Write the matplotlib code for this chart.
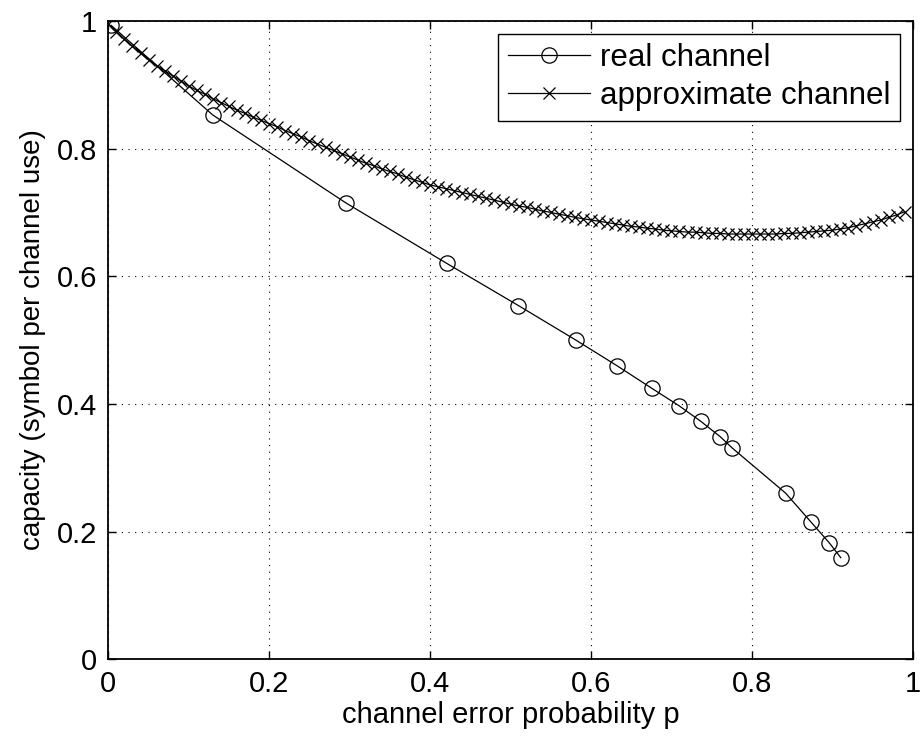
import matplotlib
matplotlib.use("Agg")
import matplotlib.pyplot as plt
import numpy as np

plt.rcParams['font.family'] = ['Liberation Sans', 'DejaVu Sans']

# real channel
real_p = [0.0034, 0.1298, 0.295, 0.4207, 0.5097, 0.581, 0.632, 0.6755, 0.7098,
          0.7364, 0.7605, 0.7754, 0.842, 0.873, 0.896, 0.9105]
real_c = [0.993, 0.8525, 0.715, 0.620, 0.554, 0.500, 0.460, 0.4244, 0.3967,
          0.3727, 0.3487, 0.331, 0.260, 0.2155, 0.1826, 0.159]

# approximate channel, p = 0.00 ... 0.99
approx_p = [i / 100 for i in range(100)]
approx_c = [
    0.995, 0.983, 0.971, 0.960, 0.949, 0.939, 0.930, 0.922, 0.914, 0.906,
    0.898, 0.891, 0.885, 0.878, 0.872, 0.866, 0.860, 0.855, 0.849, 0.844,
    0.839, 0.834, 0.828, 0.823, 0.818, 0.812, 0.807, 0.802, 0.797, 0.792,
    0.787, 0.782, 0.777, 0.773, 0.768, 0.764, 0.760, 0.755, 0.751, 0.747,
    0.743, 0.740, 0.737, 0.734, 0.731, 0.728, 0.725, 0.722, 0.719, 0.716,
    0.713, 0.710, 0.708, 0.705, 0.702, 0.700, 0.697, 0.695, 0.692, 0.690,
    0.688, 0.686, 0.684, 0.682, 0.680, 0.678, 0.677, 0.675, 0.674, 0.672,
    0.671, 0.670, 0.669, 0.669, 0.668, 0.667, 0.667, 0.666, 0.666, 0.666,
    0.666, 0.666, 0.666, 0.666, 0.667, 0.667, 0.668, 0.669, 0.670, 0.671,
    0.672, 0.674, 0.676, 0.679, 0.682, 0.685, 0.688, 0.692, 0.696, 0.701,
]

xticks = [0, 0.2, 0.4, 0.6, 0.8, 1]
xticklabels = ['0', '0.2', '0.4', '0.6', '0.8', '1']
yticks = [0, 0.2, 0.4, 0.6, 0.8, 1]
yticklabels = ['0', '0.2', '0.4', '0.6', '0.8', '1']

fig = plt.figure(figsize=(9.22, 7.44), dpi=100)
ax = fig.add_axes([0.1175, 0.114, 0.8725, 0.858])

ax.plot(real_p, real_c, color='black', linewidth=0.9, marker='o',
        markersize=11, markerfacecolor='none', markeredgewidth=0.9,
        label='real channel')
ax.plot(approx_p, approx_c, color='black', linewidth=0.9, marker='x',
        markersize=8, markeredgewidth=0.9, label='approximate channel')

ax.set_xlim(0, 1)
ax.set_ylim(0, 1)
ax.set_xticks(xticks)
ax.set_xticklabels(xticklabels)
ax.set_yticks(yticks)
ax.set_yticklabels(yticklabels)
ax.tick_params(direction='in', top=True, right=True, length=6, width=1,
               labelsize=21, pad=8)
for s in ax.spines.values():
    s.set_linewidth(1.3)
ax.grid(True, linestyle=(0, (1, 5)), color='black', linewidth=0.8)

ax.set_xlabel('channel error probability p', fontsize=21, labelpad=2)
ax.set_ylabel('capacity (symbol per channel use)', fontsize=20, labelpad=8)

leg = ax.legend(loc='upper right', fontsize=22.5, fancybox=False,
                edgecolor='black', framealpha=1, handlelength=2.65,
                borderaxespad=0.42, borderpad=0.3, labelspacing=0.25,
                handletextpad=0.3)
leg.get_frame().set_linewidth(1.0)

fig.savefig('out.png', dpi=100)
